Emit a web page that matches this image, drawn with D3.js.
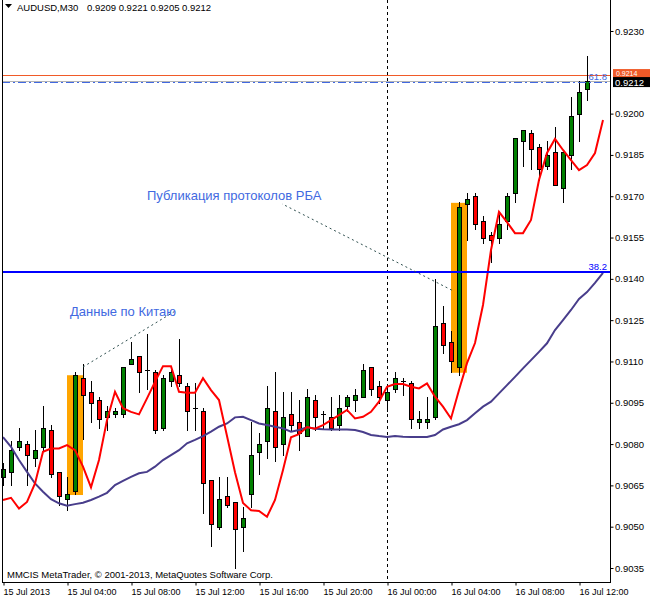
<!DOCTYPE html>
<html><head><meta charset="utf-8">
<script src="https://cdn.jsdelivr.net/npm/d3@7"></script>
<style>
html,body{margin:0;padding:0;background:#fff;}
svg{display:block;}
text{font-family:"Liberation Sans",Arial,sans-serif;}
</style></head>
<body>
<script>
// ---- data (AUDUSD M30, bars from 15 Jul 2013 00:00) ----
const opens  = [0.9068,0.9070,0.9079,0.9080,0.9075,0.9079,0.9085,0.9070,0.9060,0.9063,0.9104,0.9099,0.9096,0.9090,0.9091,0.9091,0.9109,0.9112,0.9107,0.9106,0.9086,0.9103,0.9105,0.9101,0.9093,0.9092,0.9067,0.9050,0.9061,0.9059,0.9050,0.9062,0.9077,0.9081,0.9092,0.9080,0.9091,0.9088,0.9083,0.9096,0.9091,0.9090,0.9087,0.9094,0.9096,0.9097,0.9108,0.9101,0.9096,0.9100,0.9103,0.9102,0.9088,0.9088,0.9090,0.9124,0.9117,0.9108,0.9167,0.9170,0.9161,0.9156,0.9155,0.9161,0.9171,0.9190,0.9193,0.9188,0.9181,0.9186,0.9173,0.9185,0.9200,0.9209];
const highs  = [0.9073,0.9081,0.9086,0.9081,0.9085,0.9094,0.9087,0.9070,0.9068,0.9106,0.9109,0.9103,0.9097,0.9094,0.9093,0.9108,0.9117,0.9112,0.9120,0.9107,0.9105,0.9107,0.9118,0.9102,0.9102,0.9093,0.9067,0.9068,0.9068,0.9059,0.9057,0.9088,0.9084,0.9101,0.9106,0.9099,0.9099,0.9096,0.9100,0.9098,0.9092,0.9097,0.9098,0.9098,0.9100,0.9109,0.9108,0.9103,0.9101,0.9106,0.9104,0.9103,0.9092,0.9097,0.9140,0.9130,0.9121,0.9168,0.9171,0.9171,0.9163,0.9157,0.9164,0.9171,0.9191,0.9194,0.9194,0.9189,0.9190,0.9195,0.9186,0.9206,0.9212,0.9221];
const lows   = [0.9065,0.9065,0.9078,0.9065,0.9072,0.9078,0.9068,0.9058,0.9056,0.9062,0.9082,0.9088,0.9086,0.9085,0.9090,0.9090,0.9109,0.9099,0.9100,0.9084,0.9085,0.9101,0.9101,0.9085,0.9085,0.9055,0.9043,0.9049,0.9057,0.9035,0.9041,0.9057,0.9069,0.9075,0.9074,0.9076,0.9085,0.9078,0.9083,0.9085,0.9086,0.9085,0.9085,0.9092,0.9092,0.9097,0.9098,0.9095,0.9092,0.9099,0.9098,0.9086,0.9086,0.9086,0.9089,0.9113,0.9106,0.9105,0.9154,0.9158,0.9153,0.9146,0.9153,0.9158,0.9168,0.9181,0.9180,0.9176,0.9180,0.9174,0.9168,0.9180,0.9190,0.9205];
const closes = [0.9071,0.9078,0.9081,0.9076,0.9078,0.9086,0.9069,0.9061,0.9062,0.9105,0.9098,0.9095,0.9089,0.9092,0.9092,0.9108,0.9111,0.9106,0.9107,0.9085,0.9104,0.9106,0.9102,0.9092,0.9093,0.9066,0.9051,0.9060,0.9058,0.9049,0.9053,0.9076,0.9080,0.9093,0.9079,0.9090,0.9087,0.9084,0.9097,0.9090,0.9091,0.9086,0.9093,0.9097,0.9098,0.9107,0.9100,0.9097,0.9099,0.9104,0.9103,0.9089,0.9089,0.9089,0.9123,0.9116,0.9110,0.9166,0.9169,0.9160,0.9155,0.9154,0.9160,0.9170,0.9191,0.9194,0.9187,0.9180,0.9185,0.9174,0.9186,0.9199,0.9208,0.9212];
// moving averages (shifted 2 bars forward)
const maFast = [0.90597,0.90605,0.90566,0.90590,0.90657,0.90772,0.90784,0.90784,0.90796,0.90778,0.90718,0.90643,0.90742,0.90887,0.90990,0.90930,0.90917,0.90908,0.90966,0.91026,0.91083,0.91083,0.90990,0.90986,0.90986,0.91039,0.90996,0.90960,0.90829,0.90698,0.90586,0.90560,0.90557,0.90536,0.90597,0.90706,0.90825,0.90836,0.90862,0.90856,0.90869,0.90887,0.90905,0.90924,0.90893,0.90899,0.90917,0.90954,0.91008,0.91018,0.91018,0.91008,0.91002,0.91020,0.90972,0.90936,0.90893,0.90996,0.91094,0.91167,0.91305,0.91505,0.91643,0.91606,0.91566,0.91566,0.91614,0.91759,0.91857,0.91908,0.91868,0.91831,0.91795,0.91813,0.91857,0.91977];
const maSlow = [0.90825,0.90790,0.90742,0.90699,0.90657,0.90627,0.90600,0.90585,0.90576,0.90582,0.90587,0.90597,0.90609,0.90623,0.90651,0.90666,0.90681,0.90694,0.90699,0.90718,0.90742,0.90760,0.90778,0.90803,0.90815,0.90829,0.90845,0.90863,0.90875,0.90897,0.90899,0.90887,0.90875,0.90869,0.90863,0.90857,0.90845,0.90851,0.90861,0.90856,0.90854,0.90853,0.90853,0.90853,0.90851,0.90844,0.90833,0.90829,0.90826,0.90829,0.90827,0.90826,0.90826,0.90826,0.90833,0.90853,0.90863,0.90872,0.90887,0.90912,0.90936,0.90954,0.90984,0.91014,0.91044,0.91075,0.91105,0.91135,0.91166,0.91214,0.91250,0.91287,0.91327,0.91352,0.91385,0.91422];
const yTicks = [0.9230,0.9200,0.9185,0.9170,0.9155,0.9140,0.9125,0.9110,0.9095,0.9080,0.9065,0.9050,0.9035];
const xTickBars = [0,8,16,24,32,40,48,56,64,72];
const xTickLabels = ["15 Jul 2013","15 Jul 04:00","15 Jul 08:00","15 Jul 12:00","15 Jul 16:00","15 Jul 20:00","16 Jul 00:00","16 Jul 04:00","16 Jul 08:00","16 Jul 12:00"];
const fibLevels = [{label:"38.2", price:0.91425}, {label:"61.8", price:0.92115}];
const bidPrice = 0.9212, askPrice = 0.9214;
const highlightBoxes = [{from:8, to:10, top:0.9105, bottom:0.90615}, {from:56, to:58, top:0.91676, bottom:0.91059}];
const notes = [
  {text:"Данные по Китаю", bar:10, price:0.91080, tBar:21.75, tPrice:0.91287, lx:70, ly:316},
  {text:"Публикация протоколов РБА", bar:56.1, price:0.91359, tBar:34.9, tPrice:0.91672, lx:147, ly:200}
];
const separatorBar = 48;

const W = 650, H = 600;
const svg = d3.select("body").append("svg").attr("width", W).attr("height", H);
const x = d3.scaleLinear().domain([0, 75]).range([3, 603]);
const y = d3.scaleLinear().domain([0.9035, 0.9230]).range([568, 31]);
const px = v => Math.round(v) + 0.5;

// highlight boxes
svg.append("g").selectAll("rect").data(highlightBoxes).join("rect")
  .attr("x", d => x(d.from)).attr("width", d => x(d.to) - x(d.from))
  .attr("y", d => y(d.top)).attr("height", d => y(d.bottom) - y(d.top))
  .attr("fill", "#FFA500");

// period separator
svg.append("line").attr("x1", px(x(separatorBar))).attr("x2", px(x(separatorBar)))
  .attr("y1", 0).attr("y2", 583).attr("stroke", "#000").attr("stroke-dasharray", "3,3");

// bid / ask lines
svg.append("line").attr("x1", 2).attr("x2", 610).attr("y1", px(y(askPrice))).attr("y2", px(y(askPrice)))
  .attr("stroke", "#F05A28").attr("stroke-width", 1);
svg.append("line").attr("x1", 2).attr("x2", 610).attr("y1", px(y(bidPrice))).attr("y2", px(y(bidPrice)))
  .attr("stroke", "#B4B4B4").attr("stroke-width", 1);

// candles
const bars = d3.range(opens.length);
const cg = svg.append("g");
cg.selectAll("line.wick").data(bars).join("line").attr("class", "wick")
  .attr("x1", i => px(x(i))).attr("x2", i => px(x(i)))
  .attr("y1", i => Math.round(y(highs[i]))).attr("y2", i => Math.round(y(lows[i])) + 1)
  .attr("stroke", "#000");
cg.selectAll("rect.body").data(bars.filter(i => opens[i] !== closes[i])).join("rect").attr("class", "body")
  .attr("x", i => Math.round(x(i)) - 2 + 0.5).attr("width", 4)
  .attr("y", i => Math.round(y(Math.max(opens[i], closes[i]))) + 0.5)
  .attr("height", i => Math.max(1, Math.round(y(Math.min(opens[i], closes[i]))) - Math.round(y(Math.max(opens[i], closes[i])))))
  .attr("fill", i => closes[i] > opens[i] ? "#008000" : "#FF0000")
  .attr("stroke", "#000");
cg.selectAll("line.doji").data(bars.filter(i => opens[i] === closes[i])).join("line").attr("class", "doji")
  .attr("x1", i => Math.round(x(i)) - 2).attr("x2", i => Math.round(x(i)) + 3)
  .attr("y1", i => px(y(opens[i]))).attr("y2", i => px(y(opens[i])))
  .attr("stroke", "#000");

// moving averages
const lineGen = arr => d3.line().x((d, i) => x(i)).y(d => y(d))(arr);
svg.append("path").attr("d", lineGen(maSlow)).attr("fill", "none").attr("stroke", "#483D8B").attr("stroke-width", 2);
svg.append("path").attr("d", lineGen(maFast)).attr("fill", "none").attr("stroke", "#FF0000").attr("stroke-width", 2);

// fib levels
svg.append("line").attr("x1", 2).attr("x2", 610).attr("y1", y(fibLevels[0].price)).attr("y2", y(fibLevels[0].price))
  .attr("stroke", "#0000FF").attr("stroke-width", 2);
svg.append("line").attr("x1", 2).attr("x2", 610).attr("y1", px(y(fibLevels[1].price))).attr("y2", px(y(fibLevels[1].price)))
  .attr("stroke", "#4169E1").attr("stroke-width", 1).attr("stroke-dasharray", "8,3,2,3");
svg.append("text").attr("x", 607).attr("y", y(fibLevels[0].price) - 2).attr("text-anchor", "end")
  .attr("font-size", 9.5).attr("fill", "#0000FF").text(fibLevels[0].label);
svg.append("text").attr("x", 607).attr("y", y(fibLevels[1].price) - 2).attr("text-anchor", "end")
  .attr("font-size", 9.5).attr("fill", "#4169E1").text(fibLevels[1].label);

// annotations
notes.forEach(n => {
  svg.append("line").attr("x1", x(n.bar)).attr("y1", y(n.price)).attr("x2", x(n.tBar)).attr("y2", y(n.tPrice))
    .attr("stroke", "#2F4F4F").attr("stroke-dasharray", "2,3");
  svg.append("text").attr("x", n.lx).attr("y", n.ly).attr("font-size", 13).attr("fill", "#4169E1").text(n.text);
});

// frame
svg.append("line").attr("x1", 2.5).attr("x2", 2.5).attr("y1", 0).attr("y2", 583).attr("stroke", "#000");
svg.append("line").attr("x1", 610.5).attr("x2", 610.5).attr("y1", 0).attr("y2", 583).attr("stroke", "#000");
svg.append("line").attr("x1", 2).attr("x2", 611).attr("y1", 582.5).attr("y2", 582.5).attr("stroke", "#000");

// right axis
const yAxis = svg.append("g").attr("transform", "translate(610.5,0)")
  .call(d3.axisRight(y).tickValues(yTicks).tickFormat(d3.format(".4f")).tickSize(3).tickSizeOuter(0));
yAxis.select(".domain").remove();
yAxis.selectAll("line").attr("stroke", "#000");
yAxis.selectAll("text").attr("x", 4.5).attr("font-size", 9.5).attr("font-family", "Liberation Sans, Arial, sans-serif").attr("fill", "#000");

// bottom axis
const xAxis = svg.append("g").attr("transform", "translate(0,582.5)")
  .call(d3.axisBottom(x).tickValues(xTickBars).tickFormat((d, i) => xTickLabels[i]).tickSize(3).tickSizeOuter(0));
xAxis.select(".domain").remove();
xAxis.selectAll(".tick line").attr("transform", "translate(0.5,0)").attr("stroke", "#000");
xAxis.selectAll("text").attr("text-anchor", "start").attr("y", 6).attr("dy", "0.71em").attr("x", 0)
  .attr("font-size", 9).attr("font-family", "Liberation Sans, Arial, sans-serif").attr("fill", "#000");

// price labels (ask label sits just above the bid label, as in the terminal)
svg.append("rect").attr("x", 613).attr("y", y(askPrice) - 6).attr("width", 37).attr("height", 10).attr("fill", "#F05A28");
svg.append("text").attr("x", 616).attr("y", y(askPrice) + 0.5).attr("font-size", 7).attr("fill", "#fff").text(d3.format(".4f")(askPrice));
svg.append("rect").attr("x", 613).attr("y", y(bidPrice) - 3.5).attr("width", 37).attr("height", 10).attr("fill", "#000");
svg.append("text").attr("x", 615).attr("y", y(bidPrice) + 5).attr("font-size", 9.5).attr("fill", "#fff").text(d3.format(".4f")(bidPrice));

// header
svg.append("path").attr("d", "M5,4 L12,4 L8.5,8 Z").attr("fill", "#000");
svg.append("text").attr("x", 17).attr("y", 11).attr("font-size", 9.5).attr("fill", "#000").text("AUDUSD,M30");
svg.append("text").attr("x", 87).attr("y", 11).attr("font-size", 9.5).attr("fill", "#000")
  .text([opens[73], highs[73], lows[73], closes[73]].map(d3.format(".4f")).join(" "));

// copyright
svg.append("text").attr("x", 7).attr("y", 578).attr("font-size", 9.5).attr("fill", "#000")
  .text("MMCIS MetaTrader, © 2001-2013, MetaQuotes Software Corp.");
</script>
</body></html>
